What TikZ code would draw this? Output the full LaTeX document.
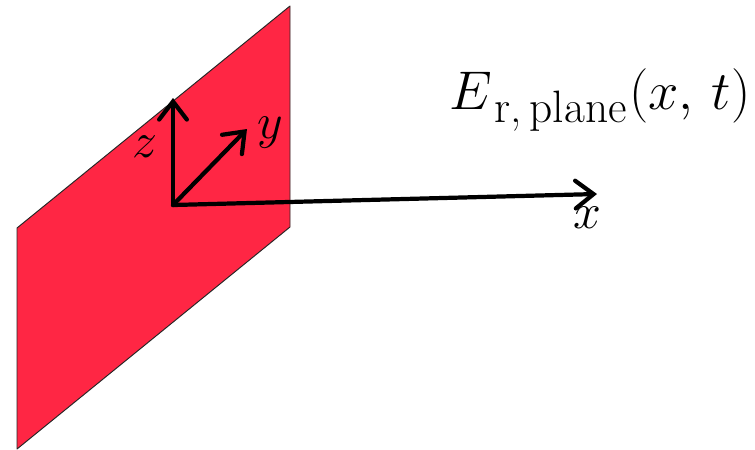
\documentclass[tikz,border=0pt]{standalone}
\usetikzlibrary{arrows.meta}
\definecolor{planered}{RGB}{255,38,68}
\begin{document}
\begin{tikzpicture}[x=0.415pt,y=-0.415pt,
  axis/.style={line width=1.75pt,line cap=round,-{Straight Barb[length=7.5pt,width=11.5pt,line cap=round]}},
  lbl/.style={font=\huge,inner sep=0pt,anchor=base},
  plane/.style={fill=planered,draw=black!85,line width=0.4pt,line join=round}]
\useasboundingbox (0,0) rectangle (755,449);
\coordinate (p1) at (17,228);
\coordinate (p2) at (290,6);
\coordinate (p3) at (290,227);
\coordinate (p4) at (17,449);
\draw[plane] (p1) -- (p2) -- (p3) -- (p4) -- cycle;
\coordinate (o) at (173,205);
\coordinate (zt) at (173,98);
\coordinate (yt) at (247,129);
\coordinate (xt) at (597,194);
\draw[axis] (o) -- (zt);
\draw[axis] (o) -- (yt);
\draw[axis] (o) -- (xt);
\node[lbl] (zl) at (145,157) {$z$};
\node[lbl] (yl) at (270,138) {$y$};
\node[lbl] (xl) at (587,228) {$x$};
\node[lbl,anchor=base west] (el) at (449,109) {\scalebox{1.09}{$E$\kern1pt\raisebox{-5pt}{\LARGE r,\,plane}\kern1pt$(x,\,t)$}};
\end{tikzpicture}
\end{document}
